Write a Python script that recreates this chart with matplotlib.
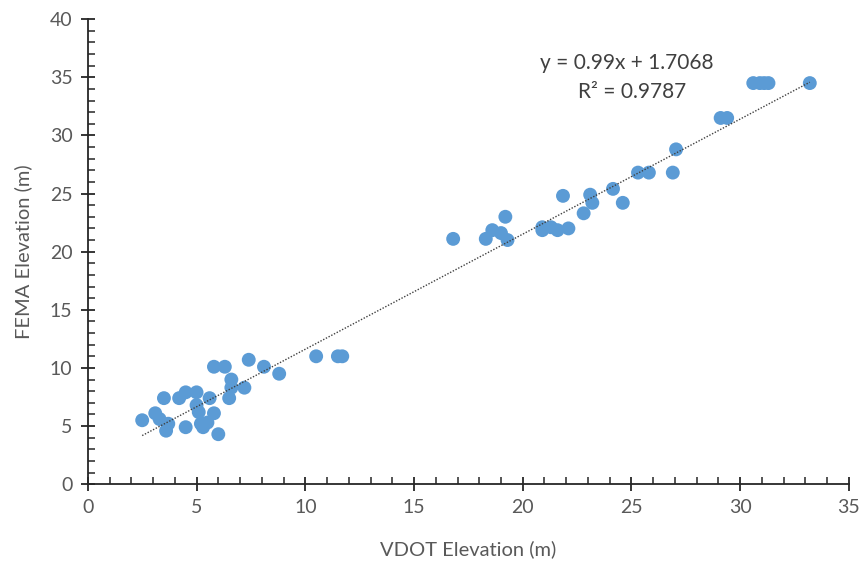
import numpy as np
import matplotlib
matplotlib.use('Agg')
import matplotlib.pyplot as plt
from matplotlib.ticker import MultipleLocator

# VDOT vs FEMA elevations (m)
vdot = [2.5, 3.1, 3.3, 3.5, 3.6, 3.7, 4.2, 4.5, 4.5, 5.0, 5.0, 5.1, 5.2, 5.3,
        5.5, 5.6, 5.8, 5.8, 6.0, 6.3, 6.5, 6.6, 6.6, 7.2, 7.4, 8.1, 8.8,
        10.5, 11.5, 11.7,
        16.8, 18.3, 18.6, 19.0, 19.2, 19.3, 20.9, 20.9, 21.3, 21.6, 22.1,
        21.85, 22.8, 23.1, 23.2, 24.15, 24.6, 25.3, 25.8, 26.9, 27.05,
        29.1, 29.4, 30.6, 30.9, 31.1, 31.3, 33.2]
fema = [5.5, 6.1, 5.6, 7.4, 4.6, 5.2, 7.4, 7.9, 4.9, 7.9, 6.8, 6.2, 5.2, 4.9,
        5.3, 7.4, 6.1, 10.1, 4.3, 10.1, 7.4, 8.3, 9.0, 8.3, 10.7, 10.1, 9.5,
        11.0, 11.0, 11.0,
        21.1, 21.1, 21.85, 21.6, 23.0, 21.0, 22.1, 21.85, 22.1, 21.85, 22.0,
        24.8, 23.3, 24.9, 24.2, 25.4, 24.2, 26.8, 26.8, 26.8, 28.8,
        31.5, 31.5, 34.5, 34.5, 34.5, 34.5, 34.5]

slope = 0.99
intercept = 1.7068
r2 = 0.9787

plt.rcParams['font.family'] = ['Lato', 'DejaVu Sans']

fig = plt.figure(figsize=(8.61, 5.63), dpi=100)
ax = fig.add_axes([0.102, 0.140, 0.884, 0.826])

ax.scatter(vdot, fema, s=100, color='#5B9BD5', edgecolors='none', zorder=3)

# linear trendline
xt = np.array([min(vdot), max(vdot)])
ax.plot(xt, slope * xt + intercept, linestyle=(0, (1, 1.2)), color='#404040',
        linewidth=1.0, zorder=4)

fig.text(627 / 861, 1 - 63 / 563, 'y = 0.99x + 1.7068', ha='center',
         va='center', fontsize=15, color='#404040')
fig.text(632 / 861, 1 - 92 / 563, 'R² = %.4f' % r2, ha='center',
         va='center', fontsize=15, color='#404040')

ax.set_xlim(0, 35)
ax.set_ylim(0, 40)
ax.xaxis.set_major_locator(MultipleLocator(5))
ax.yaxis.set_major_locator(MultipleLocator(5))
ax.xaxis.set_minor_locator(MultipleLocator(1))
ax.yaxis.set_minor_locator(MultipleLocator(1))

for side in ['top', 'right']:
    ax.spines[side].set_visible(False)
for side in ['left', 'bottom']:
    ax.spines[side].set_color('#262626')
    ax.spines[side].set_linewidth(1.3)

ax.tick_params(which='major', direction='inout', length=10, width=1.3,
               color='#262626', labelsize=14, labelcolor='#595959', pad=6)
ax.tick_params(which='minor', direction='in', length=5, width=1.1,
               color='#262626')

ax.set_xlabel('VDOT Elevation (m)', fontsize=14.5, color='#595959', labelpad=17)
ax.set_ylabel('FEMA Elevation (m)', fontsize=14.5, color='#595959', labelpad=13)

fig.savefig('out.png', dpi=100)
